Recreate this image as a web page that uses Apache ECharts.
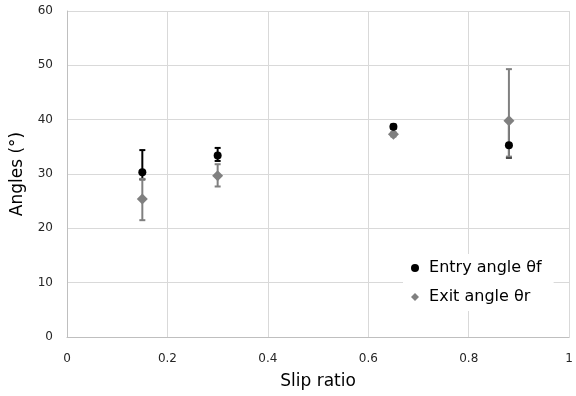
<!DOCTYPE html>
<html>
<head>
<meta charset="utf-8">
<script src="https://cdn.jsdelivr.net/npm/echarts@6/dist/echarts.min.js"></script>
<style>
  html, body { margin: 0; padding: 0; background: #fff; }
  #chart { width: 576px; height: 396px; }
</style>
</head>
<body>
<div id="chart"></div>
<script>
// 数据
var slipRatio = [0.15, 0.3, 0.65, 0.88];
var entryAngle = [30.3, 33.4, 38.7, 35.3];
var entryLow = [29.0, 32.4, 38.3, 33.0];
var entryHigh = [34.4, 34.8, 39.1, 39.6];
var exitAngle = [25.4, 29.7, 37.3, 39.8];
var exitLow = [21.5, 27.7, 36.9, 33.2];
var exitHigh = [29.1, 31.8, 37.7, 49.3];

function pairs(ys) {
  return slipRatio.map(function (x, i) { return [x, ys[i]]; });
}
function bars(lo, hi) {
  return slipRatio.map(function (x, i) { return [x, lo[i], hi[i]]; });
}

// 误差线
function errorBar(color) {
  return function (params, api) {
    var top = api.coord([api.value(0), api.value(2)]);
    var bot = api.coord([api.value(0), api.value(1)]);
    var cap = 3;
    var style = { stroke: color, lineWidth: 2 };
    return {
      type: 'group',
      children: [
        { type: 'line', shape: { x1: top[0], y1: top[1], x2: bot[0], y2: bot[1] }, style: style },
        { type: 'line', shape: { x1: top[0] - cap, y1: top[1], x2: top[0] + cap, y2: top[1] }, style: style },
        { type: 'line', shape: { x1: bot[0] - cap, y1: bot[1], x2: bot[0] + cap, y2: bot[1] }, style: style }
      ]
    };
  };
}

var chart = echarts.init(document.getElementById('chart'));
chart.setOption({
  animation: false,
  grid: { left: 67, right: 2, top: 11, bottom: 59 },
  xAxis: {
    type: 'value', min: 0, max: 1, interval: 0.2,
    name: 'Slip ratio', nameLocation: 'middle', nameGap: 36,
    nameTextStyle: { fontFamily: 'DejaVu Sans', fontSize: 17, color: '#000' },
    axisLine: { lineStyle: { color: '#bfbfbf' } },
    axisTick: { show: false },
    axisLabel: { fontFamily: 'DejaVu Sans', fontSize: 12, color: '#262626', margin: 16 },
    splitLine: { lineStyle: { color: '#d9d9d9' } }
  },
  yAxis: {
    type: 'value', min: 0, max: 60, interval: 10,
    name: 'Angles (°)', nameLocation: 'middle', nameGap: 41,
    nameTextStyle: { fontFamily: 'DejaVu Sans', fontSize: 17, color: '#000' },
    axisLine: { show: true, lineStyle: { color: '#bfbfbf' } },
    axisTick: { show: false },
    axisLabel: { fontFamily: 'DejaVu Sans', fontSize: 12, color: '#262626', margin: 14 },
    splitLine: { lineStyle: { color: '#d9d9d9' } }
  },
  legend: {
    orient: 'vertical', left: 403, top: 254,
    padding: [6, 12, 6, 8],
    backgroundColor: '#fff',
    itemGap: 13, itemWidth: 8, itemHeight: 8,
    formatter: function (name) { return ' ' + name; },
    textStyle: { fontFamily: 'DejaVu Sans', fontSize: 16, color: '#000' },
    data: [
      { name: 'Entry angle θf', icon: 'circle', itemStyle: { color: '#000' } },
      { name: 'Exit angle θr', icon: 'diamond', itemStyle: { color: '#808080' } }
    ]
  },
  series: [
    { type: 'custom', renderItem: errorBar('#000'), data: bars(entryLow, entryHigh), z: 2, silent: true },
    { type: 'custom', renderItem: errorBar('#808080'), data: bars(exitLow, exitHigh), z: 3, silent: true },
    {
      name: 'Exit angle θr', type: 'scatter', symbol: 'diamond', symbolSize: 11,
      itemStyle: { color: '#808080', opacity: 1 }, data: pairs(exitAngle), z: 4
    },
    {
      name: 'Entry angle θf', type: 'scatter', symbol: 'circle', symbolSize: 8,
      itemStyle: { color: '#000', opacity: 1 }, data: pairs(entryAngle), z: 5
    }
  ]
});
</script>
</body>
</html>
